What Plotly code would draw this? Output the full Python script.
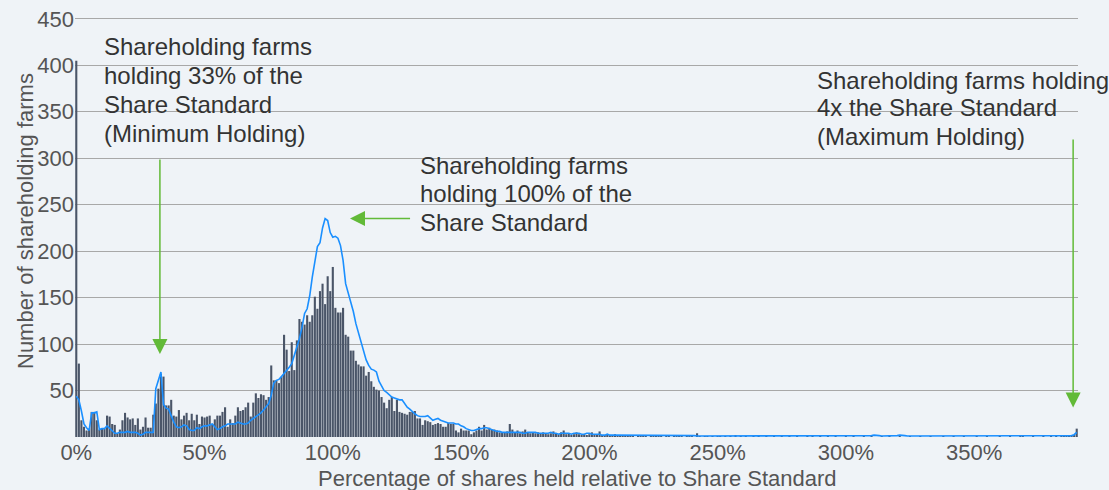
import plotly.graph_objects as go

# ---------------- data ----------------
# x categories: percentage of Share Standard (1% bins)
pct = list(range(0, 391))

farms = [
    405, 79, 18, 11, 7, 9, 27, 27, 18, 8,
    9, 9, 23, 22, 14, 13, 4, 8, 18, 26,
    21, 19, 20, 13, 20, 8, 11, 21, 10, 10,
    24, 36, 52, 68, 65, 34, 34, 40, 23, 22,
    29, 19, 23, 26, 18, 25, 18, 24, 14, 22,
    21, 22, 23, 14, 19, 23, 23, 27, 32, 11,
    19, 15, 23, 32, 28, 29, 32, 37, 22, 37,
    47, 42, 46, 45, 40, 43, 77, 61, 61, 58,
    65, 110, 94, 71, 102, 72, 104, 127, 124, 121,
    131, 124, 131, 151, 138, 157, 165, 143, 173, 157,
    183, 139, 134, 134, 139, 110, 108, 93, 93, 82,
    78, 76, 76, 66, 70, 60, 54, 51, 50, 43,
    37, 31, 40, 43, 28, 40, 27, 26, 25, 24,
    27, 27, 28, 20, 20, 13, 18, 17, 16, 13,
    14, 15, 14, 11, 11, 15, 14, 14, 7, 5,
    9, 7, 7, 7, 3, 5, 7, 11, 7, 13,
    8, 10, 8, 8, 7, 5, 5, 5, 6, 14,
    8, 5, 7, 4, 6, 8, 5, 4, 5, 4,
    5, 4, 5, 4, 3, 4, 6, 4, 3, 5,
    7, 3, 4, 2, 3, 5, 3, 2, 3, 2,
    3, 5, 2, 3, 6, 2, 2, 3, 2, 2,
    3, 2, 1, 2, 1, 1, 2, 1, 0, 1,
    2, 1, 1, 0, 2, 1, 1, 2, 1, 0,
    1, 1, 0, 1, 1, 2, 1, 0, 1, 1,
    1, 0, 4, 1, 0, 1, 1, 0, 1, 0,
    1, 1, 0, 1, 0, 1, 0, 2, 0, 1,
    0, 1, 0, 0, 1, 0, 1, 0, 0, 1,
    0, 0, 1, 0, 0, 1, 0, 0, 1, 0,
    0, 1, 0, 0, 0, 2, 0, 1, 0, 0,
    1, 0, 0, 1, 0, 0, 1, 0, 0, 0,
    1, 0, 0, 1, 0, 0, 0, 1, 0, 0,
    1, 0, 0, 0, 1, 0, 0, 1, 0, 0,
    0, 1, 0, 0, 0, 1, 0, 0, 0, 1,
    0, 0, 0, 1, 0, 0, 0, 0, 1, 0,
    0, 0, 1, 0, 0, 0, 1, 0, 0, 0,
    0, 1, 0, 0, 0, 1, 0, 0, 0, 0,
    1, 0, 0, 0, 1, 0, 0, 0, 1, 1,
    0, 0, 0, 1, 0, 0, 0, 1, 0, 0,
    1, 0, 1, 0, 2, 1, 1, 2, 1, 2,
    9,
]

trend = [
    44, 40, 28, 14, 10, 7, 26, 26, 27, 8,
    9, 9, 12, 9, 6, 4, 4, 5, 5, 5,
    6, 5, 5, 5, 4, 2, 3, 5, 5, 5,
    5, 52, 62, 70, 35, 31, 30, 22, 16, 11,
    10, 11, 13, 12, 8, 7, 7, 10, 9, 11,
    12, 12, 13, 14, 11, 8, 9, 11, 12, 14,
    14, 14, 14, 16, 15, 14, 14, 15, 18, 20,
    22, 24, 26, 29, 32, 36, 45, 58, 61, 62,
    65, 68, 71, 75, 79, 88, 98, 106, 118, 133,
    138, 152, 172, 190, 205, 209, 225, 235, 233, 220,
    215, 216, 214, 206, 190, 165, 155, 147, 135, 122,
    112, 100, 92, 83, 77, 73, 72, 70, 60, 55,
    50, 48, 45, 43, 42, 41, 40, 40, 36, 32,
    30, 27, 25, 23, 22, 22, 22, 23, 20, 18,
    19, 20, 18, 17, 16, 15, 15, 15, 14, 14,
    12, 11, 9, 8, 7, 7, 8, 9, 9, 10,
    10, 9, 8, 7, 6, 6, 5, 5, 5, 5,
    5, 5, 5, 5, 4, 4, 5, 5, 5, 5,
    4, 4, 4, 4, 4, 5, 4, 4, 3, 4,
    4, 4, 4, 3, 4, 4, 4, 3, 3, 4,
    4, 3, 3, 3, 3, 2, 2, 3, 2, 2,
    2, 2, 2, 2, 2, 2, 2, 2, 2, 2,
    2, 2, 2, 2, 1.5, 2, 2, 2, 2, 2,
    2, 2, 1.5, 1.5, 2, 2, 1.5, 1.5, 2, 2,
    1.5, 1.5, 1, 1, 1, 1, 1, 1, 1, 1,
    1, 1, 1, 1, 1, 1, 1, 1, 1, 1,
    1, 1, 1, 1, 1, 1, 1, 1, 1, 1,
    1, 1, 1, 1, 1, 1, 1, 1, 1, 1,
    1, 1, 1, 1, 1, 1, 1, 1, 1, 1,
    1, 1, 1, 1, 1, 1, 1, 1, 1, 1,
    1, 1, 1, 1, 1, 1, 1, 1, 1, 1,
    1.5, 2, 2, 1.5, 1, 1, 1, 1, 1, 1,
    1.5, 2, 2, 1.5, 1, 1, 1, 1, 1, 1,
    1, 1, 1, 1, 1, 1, 1, 1, 1, 1,
    1, 1, 1, 1, 1, 1, 1, 1, 1, 1,
    1, 1, 1, 1, 1, 1, 1, 1, 1, 1,
    1, 1, 1, 1, 1, 1, 1, 1, 1, 1,
    1, 1, 1, 1, 1, 1, 1, 1, 1, 1,
    1, 1, 1, 1, 1, 1, 1, 1, 1.5, 2.5,
    5,
]

x_tickvals = [0, 50, 100, 150, 200, 250, 300, 350]
x_ticktext = ["0%", "50%", "100%", "150%", "200%", "250%", "300%", "350%"]
y_tickvals = [50, 100, 150, 200, 250, 300, 350, 400, 450]

note_min = ["Shareholding farms", "holding 33% of the", "Share Standard", "(Minimum Holding)"]
note_std = ["Shareholding farms", "holding 100% of the", "Share Standard"]
note_max = ["Shareholding farms holding", "4x the Share Standard", "(Maximum Holding)"]

# ---------------- figure ----------------
W, H = 1109, 490
ML, MR, MT, MB = 75, 31, 17, 53
BG = "#eff3f7"
FONT = "Liberation Sans, Arial, Helvetica, sans-serif"
GREEN = "#62ba38"

def px_x(px):
    return (px - ML) / (W - ML - MR)

def px_y(py):
    return (H - MB - py) / (H - MT - MB)

fig = go.Figure()
fig.add_trace(go.Bar(x=pct, y=farms, marker=dict(color="#4a5568", line=dict(width=0)),
                     showlegend=False, hoverinfo="x+y"))
fig.add_trace(go.Scatter(x=pct, y=trend, mode="lines",
                         line=dict(color="#1a8fff", width=1.6), showlegend=False))

annotations = []
def text_lines(lines, left_px, centers):
    for t, cy in zip(lines, centers):
        annotations.append(dict(text=t, xref="paper", yref="paper", x=px_x(left_px), y=px_y(cy),
                                xanchor="left", yanchor="middle", showarrow=False,
                                font=dict(family=FONT, size=24, color="#333333")))

text_lines(note_min, 102, [46.7, 75.5, 104.5, 133.5])
text_lines(note_std, 417.5, [165.5, 194, 222])
text_lines(note_max, 815, [80, 107.5, 136])

def arrow(x_tip, y_tip, x_tail, y_tail):
    annotations.append(dict(text="", x=x_tip, y=y_tip, ax=x_tail, ay=y_tail,
                            xref="x", yref="y", axref="x", ayref="y", showarrow=True,
                            arrowhead=2, arrowsize=2, arrowwidth=1.5, arrowcolor=GREEN,
                            standoff=0, startstandoff=0))

arrow(32.6, 89.3, 32.6, 300.3)
arrow(106.7, 235.2, 130.7, 235.2)
arrow(388.6, 31.8, 388.6, 321.9)

annotations.append(dict(text="Number of shareholding farms", textangle=-90, xref="paper", yref="paper",
                        x=px_x(25), y=px_y(221), xanchor="center", yanchor="middle", showarrow=False,
                        font=dict(family=FONT, size=22, color="#555555")))
annotations.append(dict(text="Percentage of shares held relative to Share Standard", xref="paper", yref="paper",
                        x=px_x(577), y=px_y(478), xanchor="center", yanchor="middle", showarrow=False,
                        font=dict(family=FONT, size=22, color="#555555")))

fig.update_layout(
    width=W, height=H,
    margin=dict(l=ML, r=MR, t=MT, b=MB, pad=0, autoexpand=False),
    paper_bgcolor=BG, plot_bgcolor=BG,
    bargap=0.18,
    font=dict(family=FONT, size=22, color="#555555"),
    annotations=annotations,
    xaxis=dict(range=[-0.5, 390.5], tickvals=x_tickvals, ticktext=x_ticktext,
               showgrid=False, zeroline=False, showline=False, ticks="", automargin=False,
               tickfont=dict(size=22, color="#555555")),
    yaxis=dict(range=[0, 452], tickvals=y_tickvals, showgrid=True, gridcolor="#a8a8a8",
               gridwidth=1, zeroline=False, showline=False, ticks="", automargin=False,
               tickfont=dict(size=22, color="#555555")),
)

fig.write_html("out.html", config={"displayModeBar": False},
               post_script="document.body.style.margin='0';document.body.style.background='%s';" % BG)
